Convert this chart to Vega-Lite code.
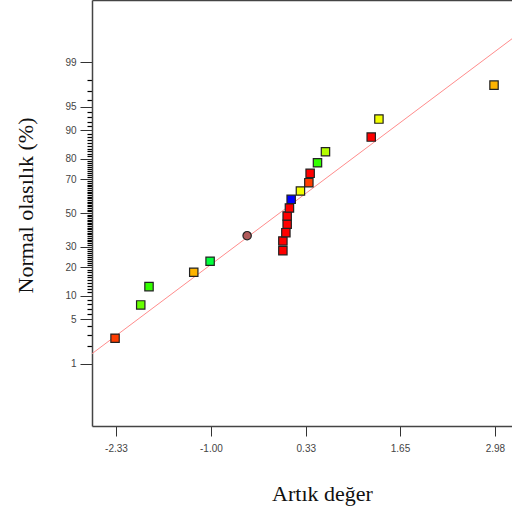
{
  "$schema": "https://vega.github.io/schema/vega-lite/v6.json",
  "width": 420,
  "height": 426,
  "autosize": {"type": "none"},
  "padding": {"left": 92, "top": 0, "right": 0, "bottom": 89},
  "background": "white",
  "config": {
    "view": {"stroke": null},
    "axis": {
      "labelFont": "Liberation Sans",
      "labelFontSize": 10,
      "labelColor": "#444444",
      "tickColor": "#333333",
      "domainColor": "#444444",
      "domainWidth": 1.5,
      "grid": false,
      "titleFont": "Liberation Serif",
      "titleFontSize": 22,
      "titleFontWeight": "normal",
      "titleColor": "#111111"
    }
  },
  "datasets": {
    "residuals": [
      {"residual": -2.343, "z": -1.934, "grp": "B", "kind": "run"},
      {"residual": -1.983, "z": -1.420, "grp": "F", "kind": "run"},
      {"residual": -1.867, "z": -1.137, "grp": "G", "kind": "run"},
      {"residual": -1.240, "z": -0.915, "grp": "C", "kind": "run"},
      {"residual": -1.011, "z": -0.745, "grp": "H", "kind": "run"},
      {"residual": -0.492, "z": -0.350, "grp": "J", "kind": "other"},
      {"residual": 0.009, "z": -0.582, "grp": "A", "kind": "run"},
      {"residual": 0.009, "z": -0.432, "grp": "A", "kind": "run"},
      {"residual": 0.051, "z": -0.304, "grp": "A", "kind": "run"},
      {"residual": 0.069, "z": -0.174, "grp": "A", "kind": "run"},
      {"residual": 0.069, "z": -0.046, "grp": "A", "kind": "run"},
      {"residual": 0.101, "z": 0.077, "grp": "A", "kind": "run"},
      {"residual": 0.125, "z": 0.211, "grp": "I", "kind": "run"},
      {"residual": 0.255, "z": 0.340, "grp": "D", "kind": "run"},
      {"residual": 0.373, "z": 0.468, "grp": "B", "kind": "run"},
      {"residual": 0.391, "z": 0.613, "grp": "A", "kind": "run"},
      {"residual": 0.494, "z": 0.776, "grp": "G", "kind": "run"},
      {"residual": 0.606, "z": 0.946, "grp": "E", "kind": "run"},
      {"residual": 1.247, "z": 1.173, "grp": "A", "kind": "run"},
      {"residual": 1.355, "z": 1.451, "grp": "D", "kind": "run"},
      {"residual": 2.968, "z": 1.975, "grp": "C", "kind": "run"}
    ],
    "fit": [
      {"residual": -2.666, "z": -2.173},
      {"residual": 3.22, "z": 2.691}
    ]
  },
  "layer": [
    {
      "data": {"name": "fit"},
      "mark": {"type": "line", "color": "#FF8C8C", "strokeWidth": 1, "clip": true},
      "encoding": {
        "x": {
          "field": "residual", "type": "quantitative",
          "scale": {"domain": [-2.666, 3.22], "nice": false, "zero": false},
          "axis": {"orient": "top", "title": null, "labels": false, "ticks": false, "domain": true}
        },
        "y": {
          "field": "z", "type": "quantitative",
          "scale": {"domain": [-3.29, 3.29], "nice": false, "zero": false},
          "axis": {
            "orient": "left", "title": null, "labels": false, "domain": false,
            "tickSize": 5, "tickColor": "#000000", "tickWidth": 1.2,
            "values": [-2.0537,-1.8808,-1.7507,-1.5548,-1.4758,-1.4051,-1.3408,-1.2265,-1.1750,-1.1264,-1.0803,-1.0364,-0.9945,-0.9542,-0.9154,-0.8779,-0.8064,-0.7722,-0.7388,-0.7063,-0.6745,-0.6433,-0.6128,-0.5828,-0.5534,-0.4959,-0.4677,-0.4399,-0.4125,-0.3853,-0.3585,-0.3319,-0.3055,-0.2793,-0.2533,-0.2275,-0.2019,-0.1764,-0.1510,-0.1257,-0.1004,-0.0753,-0.0502,-0.0251,0.0251,0.0502,0.0753,0.1004,0.1257,0.1510,0.1764,0.2019,0.2275,0.2533,0.2793,0.3055,0.3319,0.3585,0.3853,0.4125,0.4399,0.4677,0.4959,0.5534,0.5828,0.6128,0.6433,0.6745,0.7063,0.7388,0.7722,0.8064,0.8779,0.9154,0.9542,0.9945,1.0364,1.0803,1.1264,1.1750,1.2265,1.3408,1.4051,1.4758,1.5548,1.7507,1.8808,2.0537]
          }
        }
      }
    },
    {
      "data": {"name": "residuals"},
      "mark": {"type": "point", "filled": true, "size": 70, "stroke": "#222222", "strokeWidth": 1.2, "opacity": 1},
      "encoding": {
        "x": {
          "field": "residual", "type": "quantitative",
          "axis": {
            "orient": "bottom", "title": "Artık değer",
            "values": [-2.33, -1.0, 0.33, 1.65, 2.98],
            "labelExpr": "replace(format(datum.value, '.2f'), '\u2212', '-')",
            "tickSize": 10, "labelPadding": 7, "titlePadding": 30, "titleX": 230,
            "labelFlush": false
          }
        },
        "y": {
          "field": "z", "type": "quantitative",
          "axis": {
            "orient": "left", "title": "Normal olasılık (%)",
            "values": [-2.3263, -1.6449, -1.2816, -0.8416, -0.5244, 0, 0.5244, 0.8416, 1.2816, 1.6449, 2.3263],
            "labelExpr": "{'-2.3263':'1','-1.6449':'5','-1.2816':'10','-0.8416':'20','-0.5244':'30','0':'50','0.5244':'70','0.8416':'80','1.2816':'90','1.6449':'95','2.3263':'99'}[toString(datum.value)]",
            "tickSize": 12, "labelPadding": 4, "titlePadding": 27, "titleY": 205,
            "labelFlush": false, "labelOverlap": false
          }
        },
        "color": {
          "field": "grp", "type": "nominal", "legend": null,
          "scale": {
            "domain": ["A", "B", "C", "D", "E", "F", "G", "H", "I", "J"],
            "range": ["#FF0000", "#FF3C00", "#FFB400", "#F2FF00", "#B4FF00", "#66FF00", "#33FF00", "#00FF3C", "#0000FF", "#B05A5A"]
          }
        },
        "shape": {
          "field": "kind", "type": "nominal", "legend": null,
          "scale": {"domain": ["run", "other"], "range": ["square", "circle"]}
        }
      }
    }
  ],
  "resolve": {"axis": {"x": "independent", "y": "independent"}}
}
